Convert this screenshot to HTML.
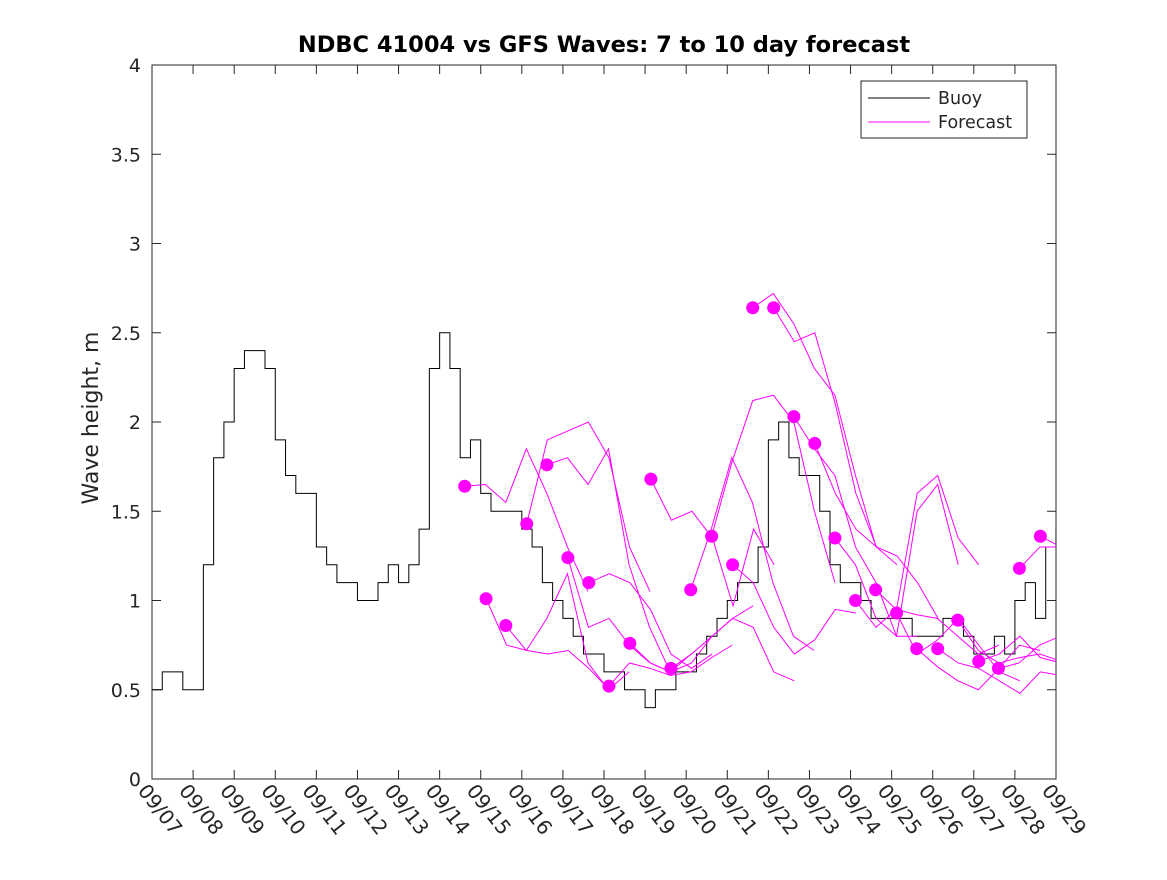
<!DOCTYPE html>
<html><head><meta charset="utf-8"><style>
body{margin:0;background:#fff;}
svg text{font-family:"DejaVu Sans","Liberation Sans",sans-serif;fill:#262626;}
</style></head><body>
<svg id="chart" width="1167" height="875" xmlns="http://www.w3.org/2000/svg">
<defs><clipPath id="clip"><rect x="152" y="65" width="904" height="714"/></clipPath></defs>
<rect width="1167" height="875" fill="#fff"/>
<text x="604" y="52" text-anchor="middle" font-size="22.5" font-weight="bold" style="fill:#000">NDBC 41004 vs GFS Waves: 7 to 10 day forecast</text>
<text transform="translate(98,418) rotate(-90)" text-anchor="middle" font-size="22">Wave height, m</text>
<g id="plot"></g>
<g>
<rect x="861" y="81" width="166" height="57" fill="#fff" stroke="#262626" stroke-width="1"/>
<line x1="868" y1="98" x2="930" y2="98" stroke="#000" stroke-width="1"/>
<text x="938" y="104" font-size="17.5">Buoy</text>
<line x1="868" y1="122" x2="930" y2="122" stroke="#f0f" stroke-width="1"/>
<text x="938" y="128" font-size="17.5">Forecast</text>
</g>
</svg>
<script>
const xTickLabels=["09/07","09/08","09/09","09/10","09/11","09/12","09/13","09/14","09/15","09/16","09/17","09/18","09/19","09/20","09/21","09/22","09/23","09/24","09/25","09/26","09/27","09/28","09/29"];
const yTicks=[0,0.5,1,1.5,2,2.5,3,3.5,4];
const yTickLabels=["0","0.5","1","1.5","2","2.5","3","3.5","4"];
// buoy, 6-hourly from 09/07 00Z
const buoy=[0.5,0.6,0.6,0.5, 0.5,1.2,1.8,2.0, 2.3,2.4,2.4,2.3, 1.9,1.7,1.6,1.6, 1.3,1.2,1.1,1.1, 1.0,1.0,1.1,1.2, 1.1,1.2,1.4,2.3, 2.5,2.3,1.8,1.9, 1.6,1.5,1.5,1.5, 1.4,1.3,1.1,1.0, 0.9,0.8,0.7,0.7, 0.6,0.6,0.5,0.5, 0.4,0.5,0.5,0.6, 0.6,0.7,0.8,0.9, 1.0,1.1,1.1,1.3, 1.9,2.0,1.8,1.7, 1.7,1.5,1.2,1.1, 1.1,1.0,0.9,0.9, 0.9,0.9,0.8,0.8, 0.8,0.9,0.9,0.8, 0.7,0.7,0.8,0.7, 1.0,1.1,0.9,1.3, 1.4];
// forecast start days and 12-hourly values
const fcStart=[7.61,8.13,8.61,9.12,9.61,10.12,10.63,11.12,11.63,12.14,12.63,13.11,13.62,14.13,14.62,15.13,15.62,16.13,16.62,17.12,17.61,18.12,18.61,19.12,19.61,20.12,20.6,21.11,21.62];
const fcValues=[
[1.64,1.65,1.55,1.85,1.6,1.3,1.05],
[1.01,0.75,0.72,0.7,0.72,0.62,0.5],
[0.86,0.72,0.9,1.15,0.65,0.5,0.6],
[1.43,1.9,1.95,2.0,1.8,1.3,1.05],
[1.76,1.8,1.65,1.85,1.2,0.85,0.6],
[1.24,0.85,0.9,0.75,0.65,0.6,0.7],
[1.10,1.15,1.1,0.95,0.7,0.62,0.7],
[0.52,0.65,0.62,0.58,0.6,0.68,0.75],
[0.76,0.65,0.6,0.65,0.8,0.9,0.97],
[1.68,1.45,1.5,1.35,0.97,1.4,1.2],
[0.62,0.7,0.8,0.9,0.85,0.6,0.55],
[1.06,1.4,1.8,1.55,1.1,0.8,0.72],
[1.36,1.78,2.12,2.15,2.0,1.5,1.1],
[1.20,1.1,0.85,0.7,0.78,0.95,0.93],
[2.64,2.72,2.55,2.3,2.15,1.7,1.3],
[2.64,2.45,2.5,2.1,1.6,1.3,1.2],
[2.03,1.85,1.7,1.3,1.1,0.8,0.8],
[1.88,1.6,1.4,1.3,1.25,1.1,0.9],
[1.35,1.2,0.9,0.8,1.5,1.65,1.2],
[1.00,0.85,0.95,1.6,1.7,1.35,1.2],
[1.06,0.95,0.92,0.9,0.8,0.7,0.75],
[0.93,0.7,0.78,0.9,0.75,0.6,0.55],
[0.73,0.63,0.55,0.5,0.62,0.75,0.72],
[0.73,0.65,0.62,0.55,0.48,0.6,0.58],
[0.89,0.72,0.65,0.68,0.7,0.66,0.75],
[0.66,0.7,0.8,0.68,0.65,0.72,0.8],
[0.62,0.65,0.75,0.8,0.68,0.6,0.55],
[1.18,1.3,1.3,1.2,1.0,1.0,1.0],
[1.36,1.3,1.25,1.1,1.0,0.95,0.9]
];
const X0=152,X1=1056,Y0=779,Y1=65;
const xs=d=>X0+(X1-X0)*d/22, ys=v=>Y0-(Y0-Y1)*v/4;
const NS="http://www.w3.org/2000/svg", g=document.getElementById('plot');
function mk(t,a,parent){const e=document.createElementNS(NS,t);for(const k in a)e.setAttribute(k,a[k]);(parent||g).appendChild(e);return e;}
const box=mk('rect',{x:X0,y:Y1,width:X1-X0,height:Y0-Y1,fill:'none',stroke:'#262626','stroke-width':1});


yTicks.forEach((v,i)=>{const y=ys(v);
 mk('line',{x1:X0,y1:y,x2:X0+9,y2:y,stroke:'#262626'});mk('line',{x1:X1,y1:y,x2:X1-9,y2:y,stroke:'#262626'});
 const t=mk('text',{x:X0-11,y:y+7,'text-anchor':'end','font-size':19});t.textContent=yTickLabels[i];
 
 });
xTickLabels.forEach((l,i)=>{const x=xs(i);
 mk('line',{x1:x,y1:Y0,x2:x,y2:Y0-9,stroke:'#262626'});mk('line',{x1:x,y1:Y1,x2:x,y2:Y1+9,stroke:'#262626'});
 const t=mk('text',{x:0,y:0,'font-size':20,transform:`translate(${x-15},${Y0+12}) rotate(52)`});t.textContent=l;
 
 });
const cg=mk('g',{'clip-path':'url(#clip)'});
let p='';buoy.forEach((v,i)=>{const x=xs(i/4),y=ys(v);p+=(i?`H${x}V${y}`:`M${x},${y}`);});
const bl=mk('path',{d:p,fill:'none',stroke:'#000','stroke-width':1},cg);


fcValues.forEach((vals,k)=>{const s=fcStart[k];
 const pts=vals.map((v,j)=>xs(s+j*0.5)+','+ys(v)).join(' ');
 const l=mk('polyline',{points:pts,fill:'none',stroke:'#f0f','stroke-width':1},cg);
 
 
 const c=mk('circle',{cx:xs(s),cy:ys(vals[0]),r:6.5,fill:'#f0f'},cg);
 
 });
</script>
</body></html>
